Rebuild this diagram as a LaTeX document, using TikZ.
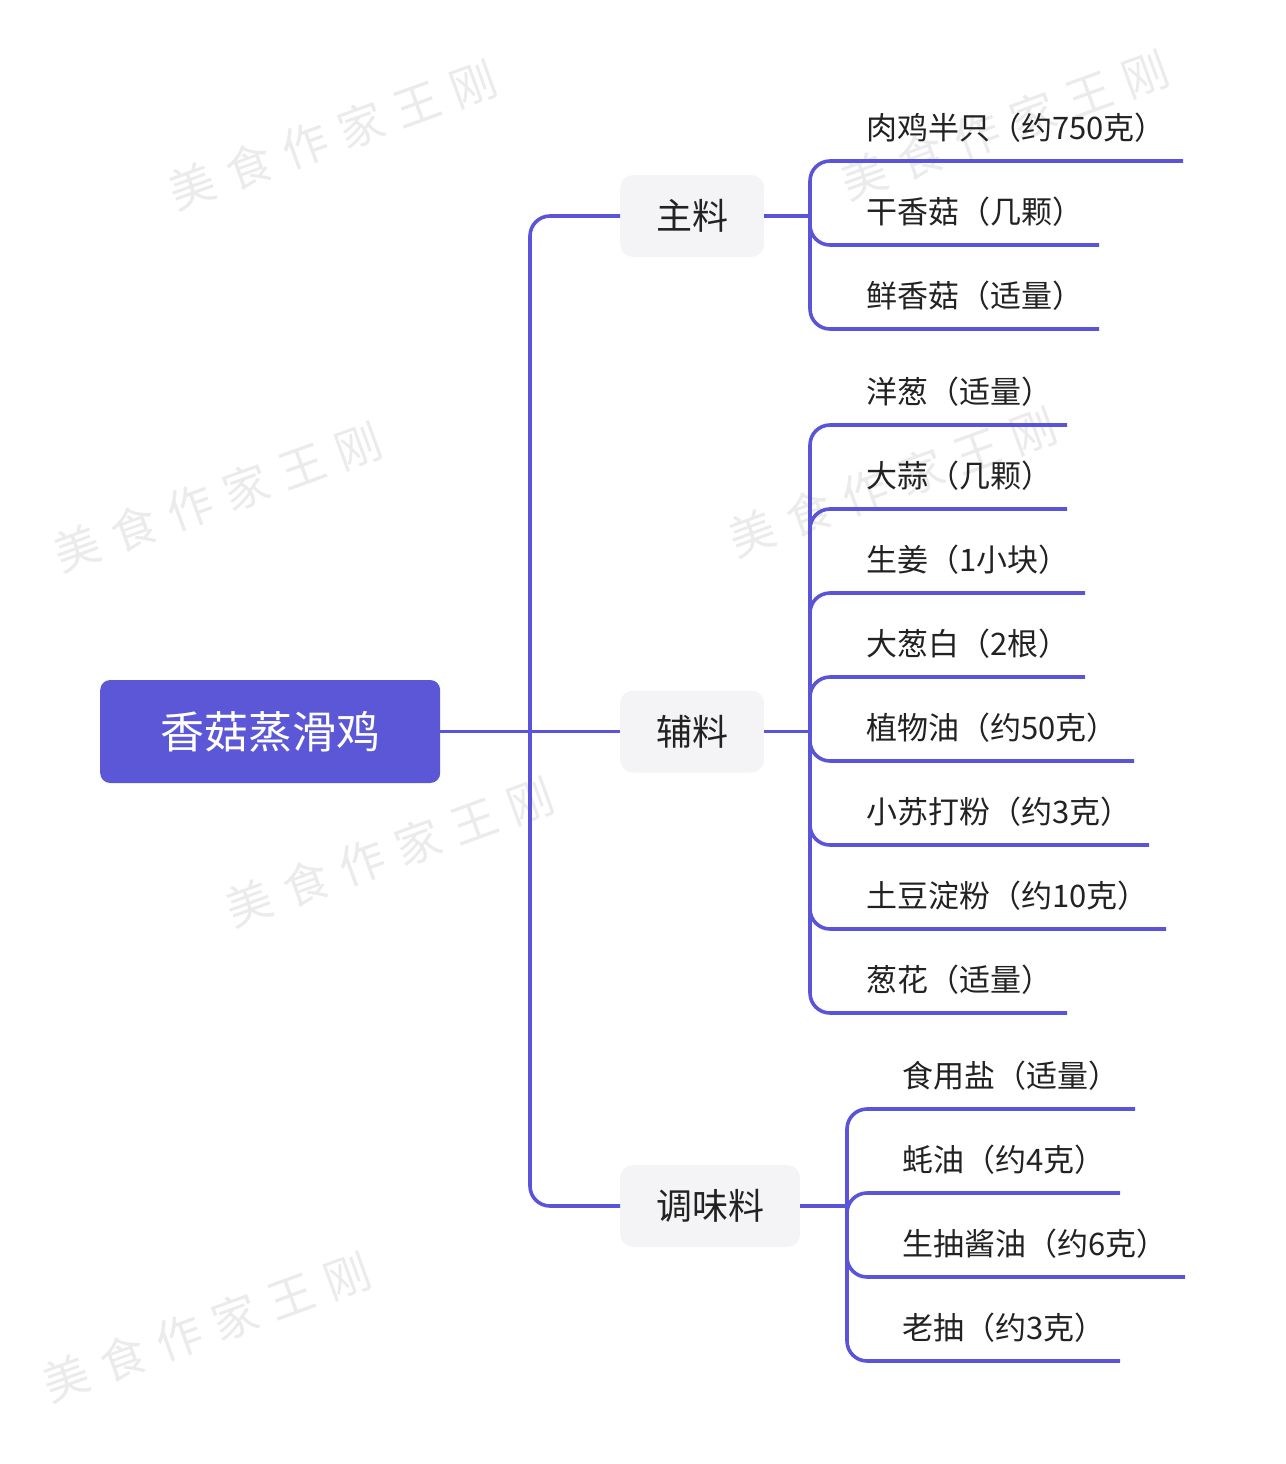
\documentclass[tikz,border=0pt]{standalone}
\usepackage{fontspec}
\setmainfont{Noto Sans CJK SC}
\newfontfamily\wmfont[LetterSpace=30]{Noto Sans CJK SC}
\definecolor{rootc}{HTML}{5B57D6}
\definecolor{linec}{HTML}{5A55D8}
\definecolor{branchc}{HTML}{F4F4F6}
\definecolor{txtc}{HTML}{222222}
\definecolor{wmc}{HTML}{EBEBEB}
\tikzset{
  rootbox/.style={fill=rootc, rounded corners=10pt, minimum width=340pt, minimum height=103pt, text=white, inner sep=0pt, font=\fontsize{44}{50}\selectfont},
  branchbox/.style={fill=branchc, rounded corners=13pt, minimum height=82pt, inner xsep=36pt, inner ysep=0pt, text=txtc, font=\fontsize{36}{42}\selectfont},
  leaftext/.style={anchor=west, inner sep=0pt, text=txtc, font=\fontsize{31}{36}\selectfont},
  conn/.style={draw=linec, line width=3.6pt, rounded corners=20pt},
  wm/.style={text=wmc, rotate=20, font=\wmfont\fontsize{46}{50}\selectfont}
}
\begin{document}
\begin{tikzpicture}[x=1pt,y=-1pt]
\useasboundingbox (0,0) rectangle (1285,1464);
% watermarks
\node[wm] (wm1) at (333,135) {美食作家王刚};
\node[wm] (wm2) at (1005,125) {美食作家王刚};
\node[wm] (wm3) at (218,497) {美食作家王刚};
\node[wm] (wm4) at (893,482) {美食作家王刚};
\node[wm] (wm5) at (390,852) {美食作家王刚};
\node[wm] (wm6) at (207,1327) {美食作家王刚};

% root and branches
\node[rootbox, anchor=west] (root) at (100,731.5) {香菇蒸滑鸡};
\node[branchbox, anchor=west] (zl) at (620,216) {主料};
\node[branchbox, anchor=west] (fl) at (620,731.5) {辅料};
\node[branchbox, anchor=west] (tw) at (620,1206) {调味料};

\coordinate (trunkTop) at (530,216);
\coordinate (trunkBot) at (530,1206);
\draw[conn] (root.east) -- (fl.west);
\draw[conn] (zl.west) -- (trunkTop) -- (trunkBot) -- (tw.west);

% junctions
\coordinate (jzl) at (810,216);
\coordinate (jfl) at (810,731.5);
\coordinate (jtw) at (847,1206);
\draw[conn] (zl.east) -- (jzl);
\draw[conn] (fl.east) -- (jfl);
\draw[conn] (tw.east) -- (jtw);

% leaves: main
\foreach \n/\y/\e/\t in {a1/161/1183/肉鸡半只（约750克）, a2/245/1099/干香菇（几颗）, a3/329/1099/鲜香菇（适量）}{
  \node[leaftext] (\n) at (866,\y-33) {\t};
  \coordinate (\n e) at (\e,\y);
  \draw[conn] (jzl) |- (\n e);
}
% leaves: auxiliary
\foreach \n/\y/\e/\t in {b1/425/1067/洋葱（适量）, b2/509/1067/大蒜（几颗）, b3/593/1085/生姜（1小块）, b4/677/1085/大葱白（2根）, b5/761/1134/植物油（约50克）, b6/845/1149/小苏打粉（约3克）, b7/929/1166/土豆淀粉（约10克）, b8/1013/1067/葱花（适量）}{
  \node[leaftext] (\n) at (866,\y-33) {\t};
  \coordinate (\n e) at (\e,\y);
  \draw[conn] (jfl) |- (\n e);
}
% leaves: seasoning
\foreach \n/\y/\e/\t in {c1/1109/1135/食用盐（适量）, c2/1193/1120/蚝油（约4克）, c3/1277/1185/生抽酱油（约6克）, c4/1361/1120/老抽（约3克）}{
  \node[leaftext] (\n) at (902,\y-33) {\t};
  \coordinate (\n e) at (\e,\y);
  \draw[conn] (jtw) |- (\n e);
}
\end{tikzpicture}
\end{document}
